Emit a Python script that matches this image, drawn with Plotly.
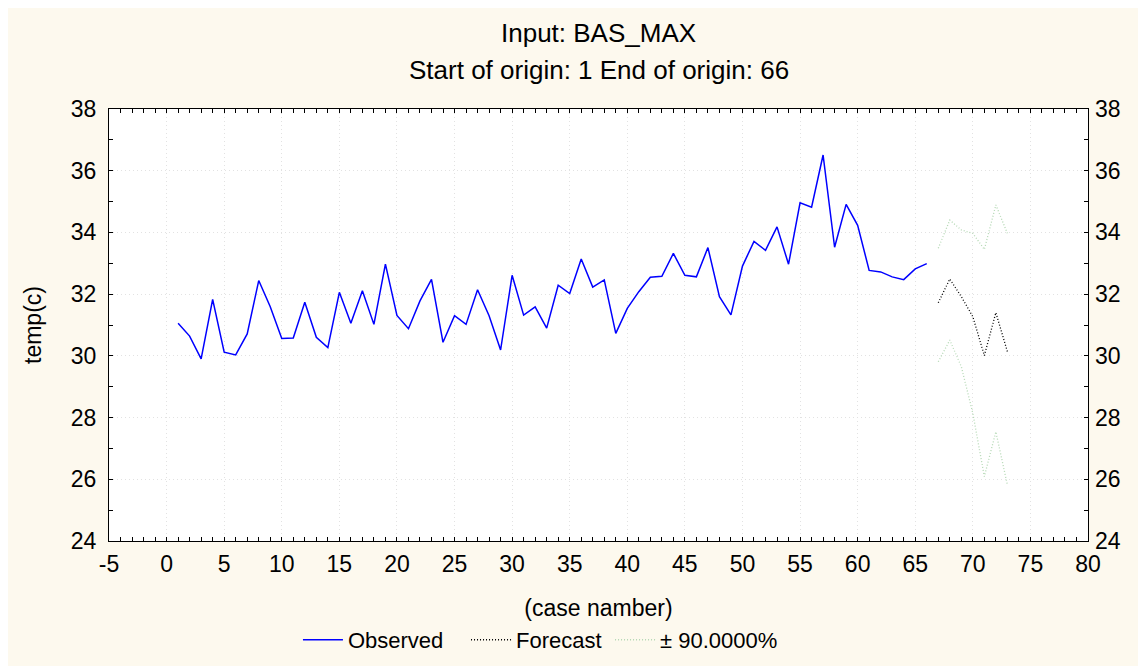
import plotly.graph_objects as go

# observed series, cases 1..66
case_obs = list(range(1, 67))
temp_obs = [
    31.06, 30.64, 29.90, 31.83, 30.12, 30.03, 30.71, 32.44, 31.59, 30.56,
    30.58, 31.74, 30.60, 30.27, 32.06, 31.06, 32.11, 31.02, 32.97, 31.31,
    30.88, 31.78, 32.48, 30.44, 31.30, 31.02, 32.14, 31.30, 30.19, 32.61,
    31.32, 31.59, 30.90, 32.29, 32.02, 33.14, 32.23, 32.46, 30.73, 31.54,
    32.08, 32.55, 32.58, 33.32, 32.61, 32.56, 33.51, 31.92, 31.33, 32.91,
    33.71, 33.42, 34.18, 32.97, 34.96, 34.82, 36.51, 33.52, 34.91, 34.23,
    32.77, 32.72, 32.56, 32.47, 32.82, 32.99,
]

# forecast, cases 67..73
case_fc = [67, 68, 69, 70, 71, 72, 73]
temp_fc = [31.72, 32.49, 31.92, 31.27, 30.01, 31.40, 30.14]
upper_fc = [33.49, 34.40, 34.08, 33.97, 33.45, 34.89, 33.97]
lower_fc = [29.81, 30.51, 29.65, 28.14, 26.09, 27.54, 25.82]

x_ticks = list(range(-5, 81, 5))
y_ticks = list(range(24, 39, 2))

FONT = "Liberation Sans, Arial, sans-serif"
BAND = "#b4d8b4"
SPARSE = "1px,2px"

fig = go.Figure()
fig.add_trace(go.Scatter(x=case_obs, y=temp_obs, mode="lines", name="Observed",
                         legend="legend",
                         line=dict(color="#0000ff", width=1.5)))
fig.add_trace(go.Scatter(x=case_fc, y=temp_fc, mode="lines", name="Forecast",
                         legend="legend2",
                         line=dict(color="#000000", width=1.3, dash=SPARSE)))
fig.add_trace(go.Scatter(x=case_fc, y=upper_fc, mode="lines", name="\u00b1 90.0000%",
                         legend="legend3",
                         line=dict(color=BAND, width=1.3, dash=SPARSE)))
fig.add_trace(go.Scatter(x=case_fc, y=lower_fc, mode="lines", showlegend=False,
                         line=dict(color=BAND, width=1.3, dash=SPARSE)))
# invisible trace so the right-hand axis gets drawn
fig.add_trace(go.Scatter(x=[case_obs[0]], y=[temp_obs[0]], yaxis="y2", mode="lines",
                         showlegend=False, hoverinfo="skip",
                         line=dict(color="rgba(0,0,0,0)")))

axis_common = dict(
    showline=True, linecolor="black", linewidth=1,
    ticks="inside", ticklen=4, tickcolor="black",
    showgrid=True, gridcolor="#e2e2e2", griddash="1px,3px", gridwidth=1,
    zeroline=False, tickfont=dict(size=23, color="black"),
)
minor_ticks = dict(ticks="inside", dtick=1, ticklen=4, tickcolor="black", showgrid=False)


def legend_at(x):
    return dict(orientation="h", x=x, xanchor="left", y=-0.229, yanchor="middle",
                font=dict(size=22), bgcolor="rgba(0,0,0,0)", itemwidth=40)


fig.update_layout(
    width=1146, height=666,
    paper_bgcolor="#fdf9ee", plot_bgcolor="white",
    font=dict(family=FONT, color="black"),
    margin=dict(l=101, r=66, t=101, b=133),
    xaxis=dict(range=[-5, 80], tickvals=x_ticks, ticktext=[str(v) for v in x_ticks],
               mirror="allticks", minor=minor_ticks, ticklabelstandoff=2,
               title=dict(text="(case namber)", font=dict(size=23), standoff=24),
               **axis_common),
    yaxis=dict(range=[24, 38], tickvals=y_ticks, mirror=True, minor=minor_ticks,
               ticklabelstandoff=7,
               title=dict(text="temp(c)", font=dict(size=23), standoff=22),
               **axis_common),
    yaxis2=dict(range=[24, 38], tickvals=y_ticks, overlaying="y", side="right",
                showline=False, ticks="inside", ticklen=4, tickcolor="black",
                minor=dict(ticks="inside", dtick=1, ticklen=4, tickcolor="black"),
                ticklabelstandoff=6,
                showgrid=False, zeroline=False, tickfont=dict(size=23, color="black")),
    legend=legend_at(0.193),
    legend2=legend_at(0.3647),
    legend3=legend_at(0.5118),
    showlegend=True,
    annotations=[
        dict(text="Input: BAS_MAX", x=0.5, y=1.176, xref="paper", yref="paper",
             showarrow=False, font=dict(size=26), yanchor="middle"),
        dict(text="Start of origin: 1 End of origin: 66", x=0.5, y=1.090, xref="paper",
             yref="paper", showarrow=False, font=dict(size=26), yanchor="middle"),
    ],
)

fig.write_html("out.html")
